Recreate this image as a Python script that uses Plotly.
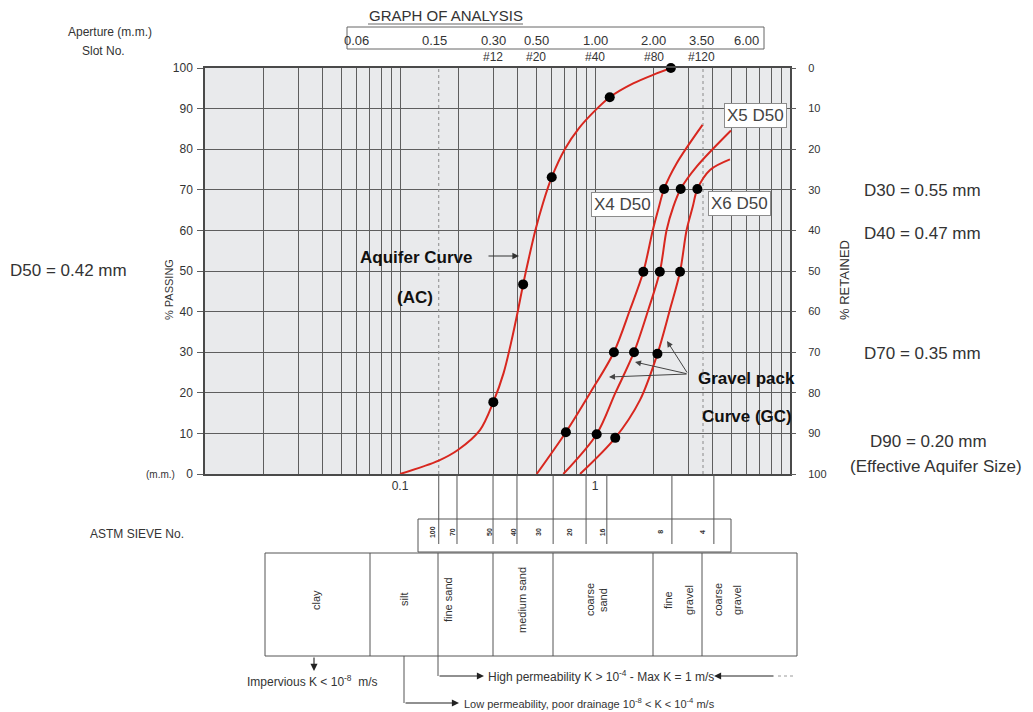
import math
import plotly.graph_objects as go

# ---------------- grading data (grain size in mm, % passing) ----------------
ac_size_mm = [0.100, 0.158, 0.198, 0.257, 0.301, 0.340, 0.371, 0.400, 0.428,
              0.459, 0.495, 0.541, 0.600, 0.700, 0.828, 1.000, 1.190, 1.570, 2.055, 2.450]
ac_passing = [0.0, 3.3, 5.9, 10.8, 17.7, 24.9, 32.3, 39.6, 46.7,
              53.4, 60.1, 66.7, 73.1, 80.0, 85.2, 89.5, 92.8, 96.2, 98.6, 100.0]
ac_dot_mm = [0.301, 0.428, 0.600, 1.190, 2.450]
ac_dot_passing = [17.7, 46.7, 73.1, 92.8, 100.0]

gc4_size_mm = [0.502, 0.709, 0.942, 1.25, 1.51, 1.77, 1.98, 2.12, 2.26, 2.62, 3.56]
gc4_passing = [0.0, 10.3, 19.9, 30.0, 40.4, 49.8, 60.1, 65.5, 70.2, 76.5, 86.0]
gc5_size_mm = [0.688, 1.02, 1.27, 1.585, 1.875, 2.15, 2.33, 2.52, 2.75, 3.32, 4.98]
gc5_passing = [0.0, 9.8, 19.9, 30.0, 40.4, 49.8, 60.1, 65.8, 70.2, 75.7, 84.6]
gc6_size_mm = [0.838, 1.27, 1.70, 2.09, 2.42, 2.73, 2.95, 3.17, 3.35, 3.89, 4.92]
gc6_passing = [0.0, 8.9, 18.2, 29.6, 40.4, 49.8, 60.1, 65.8, 70.2, 74.9, 77.5]

gc_dot_mm = [0.709, 1.25, 1.77, 2.26,
             1.02, 1.585, 2.15, 2.75,
             1.27, 2.09, 2.73, 3.35]
gc_dot_passing = [10.3, 30.0, 49.8, 70.2,
                  9.8, 30.0, 49.8, 70.2,
                  8.9, 29.6, 49.8, 70.2]

# reference apertures / slot numbers along the top
aperture_mm = [0.06, 0.15, 0.30, 0.50, 1.00, 2.00, 3.50, 6.00]
slot_mm = [0.30, 0.50, 1.00, 2.00, 3.50]
slot_labels = ["#12", "#20", "#40", "#80", "#120"]
marker_line_mm = [0.158, 3.58]

# ASTM sieve numbers and the sizes their guide lines drop from
sieve_numbers = ["100", "70", "50", "40", "30", "20", "16", "8", "4"]
sieve_line_mm = [0.158, 0.196, 0.300, 0.398, 0.610, 0.900, 1.150, 2.480, 4.070]
sieve_label_mm = [0.146, 0.185, 0.286, 0.380, 0.510, 0.736, 1.090, 2.150, 3.540]

grid_mm = [k * 10.0 ** e for e in (-2, -1, 0) for k in range(1, 10)] + [10.0]
grid_text = {0.1: "0.1", 1.0: "1"}

# ---------------- geometry helpers ----------------
W, H = 1033, 712
L, R, T, B = 205, 790, 68, 474
XLOG = (-2.0, 1.0)


def xp_mm(v):
    return (math.log10(v) - XLOG[0]) / (XLOG[1] - XLOG[0])


def PX(px):
    return (px - L) / (R - L)


def PY(py):
    return (B - py) / (B - T)


SANS = "Liberation Sans, Arial, sans-serif"
NARROW = "Liberation Sans Narrow, Arial Narrow, Liberation Sans, sans-serif"
RED = "#d8271f"
GRID = "#5e5e5e"
INK = "#333333"

fig = go.Figure()

# dotted aperture guides inside the plot
for v in marker_line_mm:
    fig.add_trace(go.Scatter(x=[v, v], y=[0, 100], mode="lines",
                             line=dict(color="#8a8a8a", width=1, dash="dot"),
                             hoverinfo="skip"))

for xs, ys in [(ac_size_mm, ac_passing), (gc4_size_mm, gc4_passing),
               (gc5_size_mm, gc5_passing), (gc6_size_mm, gc6_passing)]:
    fig.add_trace(go.Scatter(x=xs, y=ys, mode="lines",
                             line=dict(color=RED, width=2, shape="spline", smoothing=0.9),
                             hoverinfo="skip"))

fig.add_trace(go.Scatter(x=ac_dot_mm + gc_dot_mm, y=ac_dot_passing + gc_dot_passing,
                         mode="markers", marker=dict(color="black", size=10),
                         cliponaxis=False, hoverinfo="skip"))

# carrier for the % retained axis
fig.add_trace(go.Scatter(x=[1.0], y=[50], yaxis="y2", mode="markers",
                         marker=dict(opacity=0), hoverinfo="skip"))

shapes = []
ann = []


def line(x0, y0, x1, y1, color="#555555", width=1, dash=None):
    d = dict(type="line", xref="paper", yref="paper", x0=PX(x0), y0=PY(y0),
             x1=PX(x1), y1=PY(y1), line=dict(color=color, width=width))
    if dash:
        d["line"]["dash"] = dash
    shapes.append(d)


def rect(x0, y0, x1, y1, color="#555555", width=1):
    shapes.append(dict(type="rect", xref="paper", yref="paper", x0=PX(x0), y0=PY(y0),
                       x1=PX(x1), y1=PY(y1), line=dict(color=color, width=width)))


def text(s, px, py, size=12, family=SANS, color=INK, angle=0, xanchor="center", **kw):
    ann.append(dict(text=s, xref="paper", yref="paper", x=PX(px), y=PY(py),
                    showarrow=False, textangle=angle, xanchor=xanchor, yanchor="middle",
                    font=dict(size=size, family=family, color=color), **kw))


def arrow(tip_x, tip_y, tail_x, tail_y, color="#333333", head=2, size=1.2, width=1.1):
    ann.append(dict(text="", xref="paper", yref="paper", x=PX(tip_x), y=PY(tip_y),
                    ax=tail_x - tip_x, ay=tail_y - tip_y, showarrow=True,
                    arrowhead=head, arrowsize=size, arrowwidth=width, arrowcolor=color))


# ---- header block ----
text("GRAPH OF ANALYSIS", 446, 15, size=15, family=NARROW)
line(368, 24, 523, 24, color="#666666")
rect(347, 27, 764, 49, color="#666666")
for v in aperture_mm:
    ann.append(dict(text=f"{v:.2f}", xref="x", yref="paper", x=math.log10(v), y=PY(40),
                    yanchor="middle", showarrow=False,
                    font=dict(size=13, family=NARROW, color=INK)))
for v, s in zip(slot_mm, slot_labels):
    ann.append(dict(text=s, xref="x", yref="paper", x=math.log10(v), y=PY(57),
                    yanchor="middle", showarrow=False,
                    font=dict(size=12, family=NARROW, color=INK)))
text("Aperture (m.m.)", 110, 32, size=12, family=NARROW)
text("Slot No.", 103, 51, size=12, family=NARROW)

# ---- axis captions ----
text("% PASSING", 169, 290, size=11, angle=-90)
text("% RETAINED", 844, 280, size=13, angle=-90)
text("(m.m.)", 160, 474, size=10, family=NARROW)

# ---- sieve guide lines and box ----
for v in sieve_line_mm:
    shapes.append(dict(type="line", xref="paper", yref="paper", x0=xp_mm(v), x1=xp_mm(v),
                       y0=0, y1=PY(544), line=dict(color="#555555", width=1)))
rect(418, 519, 731, 552)
for v, s in zip(sieve_label_mm, sieve_numbers):
    ann.append(dict(text=f"<b>{s}</b>", xref="x", yref="paper", x=math.log10(v), y=PY(532),
                    yanchor="middle", showarrow=False, textangle=-90,
                    font=dict(size=7, family=SANS, color=INK)))
text("ASTM SIEVE No.", 137, 534, size=12, family=NARROW)

# ---- soil classification strip ----
rect(265, 553, 797, 656, color="#555555")
for bx in (370, 438, 493, 553, 653, 702):
    line(bx, 553, bx, 656)
for s, bx in [("clay", 316), ("silt", 404), ("fine sand", 448), ("medium sand", 522),
              ("coarse", 590), ("sand", 603), ("fine", 668), ("gravel", 689),
              ("coarse", 718), ("gravel", 737)]:
    text(s, bx, 600, size=11, angle=-90, family=SANS)

# ---- permeability notes ----
arrow(314, 671, 314, 656, color="#222222", head=2, size=1.3)
text("Impervious K &lt; 10<sup>-8</sup>  m/s", 312, 681, size=12, family=NARROW)

line(438, 656, 438, 676, color="#555555")
arrow(484, 676, 438, 676, color="#222222", head=2, size=1.3)
text("High permeability K &gt; 10<sup>-4</sup> - Max K = 1 m/s", 486, 676, size=12,
     family=NARROW, xanchor="left")
arrow(714, 676, 775, 676, color="#222222", head=2, size=1.3)
line(778, 676, 796, 676, color="#9a9a9a", dash="dot")

line(404, 656, 404, 703, color="#555555")
arrow(459, 703, 404, 703, color="#222222", head=2, size=1.3)
text("Low permeability, poor drainage 10<sup>-8</sup> &lt; K &lt; 10<sup>-4</sup> m/s", 462, 703,
     size=11, family=NARROW, xanchor="left")

# ---- curve annotations ----
text("<b>Aquifer Curve</b>", 416, 257, size=17, color="#111111")
arrow(519, 256, 487, 256, color="#333333", head=2, size=1.2)
text("<b>(AC)</b>", 415, 297, size=17, color="#111111")

text("<b>Gravel pack</b>", 746, 378, size=17, color="#111111")
text("<b>Curve (GC)</b>", 747, 416, size=17, color="#111111")
for tx, ty in [(667, 341), (635, 362), (609, 377)]:
    arrow(tx, ty, 688, 374, color="#444444", head=2, size=1.2, width=1)

for s, cx, cy in [("X5 D50", 755, 115), ("X4 D50", 622, 204), ("X6 D50", 739, 203)]:
    text(s, cx, cy, size=17, color="#444444", bgcolor="white",
         bordercolor="#8c8c8c", borderwidth=1, borderpad=2)

# ---- characteristic sizes ----
text("D50 = 0.42 mm", 68, 270, size=17)
text("D30 = 0.55 mm", 922, 190, size=17)
text("D40 = 0.47 mm", 922, 233, size=17)
text("D70 = 0.35 mm", 922, 354, size=17)
text("D90 = 0.20 mm", 928, 441, size=17)
text("(Effective Aquifer Size)", 936, 466, size=17)

fig.update_layout(
    width=W, height=H, autosize=False,
    margin=dict(l=L, r=W - R, t=T, b=H - B, pad=0),
    paper_bgcolor="white", plot_bgcolor="#e9eaec",
    showlegend=False,
    shapes=shapes, annotations=ann,
    xaxis=dict(type="log", range=list(XLOG), tickmode="array", tickvals=grid_mm,
               ticktext=[grid_text.get(round(v, 6), "") for v in grid_mm],
               showgrid=True, gridcolor=GRID, gridwidth=1.2,
               showline=True, mirror=True, linecolor="#4a4a4a", linewidth=1.5,
               ticks="", tickfont=dict(size=12, family=SANS, color=INK),
               zeroline=False, fixedrange=True),
    yaxis=dict(range=[0, 100], tickmode="linear", tick0=0, dtick=10,
               showgrid=True, gridcolor=GRID, gridwidth=1.4,
               showline=True, mirror=True, linecolor="#4a4a4a", linewidth=1.5,
               ticks="outside", ticklen=6, tickcolor=GRID, tickwidth=1.2,
               tickfont=dict(size=12, family=SANS, color=INK),
               ticklabelstandoff=2, zeroline=False, fixedrange=True),
    yaxis2=dict(range=[100, 0], overlaying="y", side="right", anchor="x",
                tickmode="linear", tick0=0, dtick=10, showgrid=False,
                ticks="outside", ticklen=5, tickcolor=GRID, tickwidth=1.2,
                tickfont=dict(size=11, family=SANS, color=INK),
                ticklabelstandoff=10, zeroline=False, fixedrange=True),
)

fig.write_html("out.html")
